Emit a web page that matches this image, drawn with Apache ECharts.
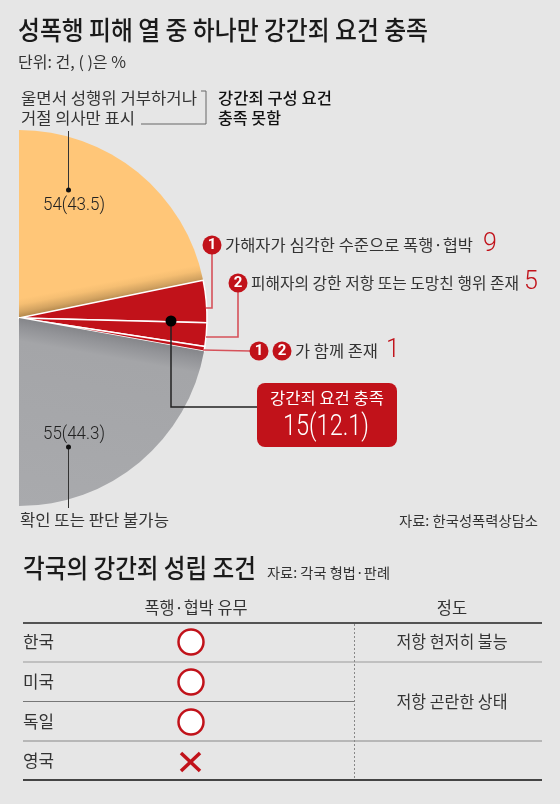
<!DOCTYPE html>
<html><head><meta charset="utf-8">
<style>html,body{margin:0;padding:0;background:#e6e6e6}#c{width:560px;height:804px}</style>
<script src="https://cdn.jsdelivr.net/npm/echarts@6/dist/echarts.min.js"></script>
</head><body><div id="c"></div>
<script>
const sliceNames = ['울면서 성행위 거부하거나 거절 의사만 표시','가해자가 심각한 수준으로 폭행·협박','피해자의 강한 저항 또는 도망친 행위 존재','1 2 가 함께 존재','확인 또는 판단 불가능'];
const sliceValues = [54, 9, 5, 1, 55];
const countries = ['한국','미국','독일','영국'];
const forceRequired = [true, true, true, false];
const tableHeaders = ['폭행·협박 유무','정도'];
const degreeLabels = ['저항 현저히 불능','저항 곤란한 상태'];

const RED='#c1121a', LINE='#d6525a', INK='#222';
const FONT='"Noto Sans CJK KR","Noto Sans",sans-serif';
const NUM='Roboto,"Liberation Sans",sans-serif';
const g=[];
const measure=document.createElement('canvas').getContext('2d');
function T(s,x,y,size,o={}){
  const font=`${o.w||400} ${size}px ${o.f||FONT}`;
  measure.font=font;
  const el={type:'text',z:10,x:x,y:y,style:{x:0,y:0,text:s,font:font,fill:o.c||INK,textAlign:o.a||'left',textVerticalAlign:'middle'}};
  if(o.width){el.scaleX=o.width/measure.measureText(s).width;}
  g.push(el);
}
function L(pts,c,w,o={}){g.push({type:'polyline',z:o.z||5,shape:{points:pts},style:{stroke:c,lineWidth:w,fill:null,lineDash:o.dash||null}});}
function C(x,y,r,fill,stroke,w){g.push({type:'circle',z:8,shape:{cx:x,cy:y,r:r},style:{fill:fill,stroke:stroke||null,lineWidth:w||0}});}
function badge(x,y,n){C(x,y,9.5,RED);T(n,x,y,15,{c:'#fff',a:'center',w:700,f:NUM});}

T('성폭행 피해 열 중 하나만 강간죄 요건 충족',18,30,26,{w:500,c:'#1a1a1a',width:410});
T('단위: 건, ( )은 %',18,62,16,{width:108,c:'#333'});
T('울면서 성행위 거부하거나',21,98,16,{width:176,c:'#333'});
T('거절 의사만 표시',21,118,16,{width:114,c:'#333'});
T('강간죄 구성 요건',218,98,16,{w:500,width:114,c:'#111'});
T('충족 못함',218,118,16,{w:500,width:63,c:'#111'});
L([[141,124],[206,124],[206,91],[201,91]],'#666',1);
L([[68.5,131],[68.5,189]],'#333',1);C(68.5,190,2.5,'#111');
T('54(43.5)',74,205,18,{a:'center',f:NUM,w:300,c:'#222',width:62});
C(68.5,447,2.5,'#111');L([[68.5,447],[68.5,508]],'#333',1);
T('55(44.3)',74,434,18,{a:'center',f:NUM,w:300,c:'#222',width:62});
T('확인 또는 판단 불가능',20,520,16,{width:149,c:'#333'});
T('자료: 한국성폭력상담소',538,521,14,{a:'right',width:139,c:'#333'});

L([[212,254],[212,308],[206,308]],LINE,1.6);
L([[238,292],[238,337],[206,337]],LINE,1.6);
L([[203,350],[250,351]],LINE,1.6);
badge(212,245,'1');badge(238,283,'2');badge(259,351,'1');badge(282,351,'2');
T('가해자가 심각한 수준으로 폭행·협박',225,245,16,{width:248,c:'#333'});
T('9',483,245,25,{f:NUM,w:300,c:RED});
T('피해자의 강한 저항 또는 도망친 행위 존재',251,283,16,{width:268,c:'#333'});
T('5',524,283,25,{f:NUM,w:300,c:RED});
T('가 함께 존재',295,351,16,{width:83,c:'#333'});
T('1',386,351,25,{f:NUM,w:300,c:RED});

L([[171,321],[171,407],[258,407]],'#222',1.5);C(171,321,5.5,'#000');
g.push({type:'rect',z:8,shape:{x:257,y:383,width:140,height:64,r:8},style:{fill:RED}});
T('강간죄 요건 충족',327,398,16,{a:'center',c:'#fff',width:114});
T('15(12.1)',326,427,30,{a:'center',c:'#fff',f:NUM,w:300,width:86});

T('각국의 강간죄 성립 조건',23,568,26,{w:500,c:'#1a1a1a',width:233});
T('자료: 각국 형법·판례',267,573,14,{width:123,c:'#333'});
T(tableHeaders[0],196,608,16.5,{a:'center',width:103,c:'#333'});
T(tableHeaders[1],452,608,16.5,{a:'center',c:'#333'});
const rowY=[642,682,722,761];
L([[23,623],[542,623]],'#222',1.5);
L([[23,662],[542,662]],'#999',1.2);
L([[23,701.5],[354,701.5]],'#777',1);
L([[23,741],[542,741]],'#888',1.2);
L([[23,780],[542,780]],'#444',2);
L([[354.5,624],[354.5,779]],'#888',1,{dash:[2,2]});
countries.forEach((n,i)=>{
  T(n,23,rowY[i],17,{c:'#333',width:31});
  if(forceRequired[i]) C(191,rowY[i],12.5,'#fff',RED,2.5);
  else {L([[181,753],[200,771]],RED,3.5,{z:9});L([[200,753],[181,771]],RED,3.5,{z:9});}
});
T(degreeLabels[0],452,642,16.5,{a:'center',width:111,c:'#333'});
T(degreeLabels[1],452,702,16.5,{a:'center',width:111,c:'#333'});

function grad(x,y,x2,y2,stops){return {type:'linear',x,y,x2,y2,global:true,colorStops:stops.map(s=>({offset:s[0],color:s[1]}))};}
const colors=[
 grad(19,318,-16,133,[[0,'#b0854a'],[0.03,'#d3a361'],[0.07,'#f5be72'],[0.1,'#ffc678'],[1,'#ffc678']]),
 RED,RED,RED,
 grad(19,318,-14,503,[[0,'#85868a'],[0.05,'#939498'],[0.12,'#a4a5a8'],[1,'#a9aaad']])
];
const chart=echarts.init(document.getElementById('c'),null,{renderer:'canvas'});
chart.setOption({
  animation:false,
  backgroundColor:'#e6e6e6',
  graphic:{elements:g},
  series:[{type:'pie',center:[19,318],radius:[0,188],startAngle:90,endAngle:-90,clockwise:true,silent:true,
    label:{show:false},labelLine:{show:false},
    data:sliceValues.map((v,i)=>{
      const red=colors[i]===RED;
      return {name:sliceNames[i],value:v,itemStyle:{color:colors[i],borderColor:red?'#fff':'transparent',borderWidth:red?1.5:0}};
    })}]
});
</script></body></html>
